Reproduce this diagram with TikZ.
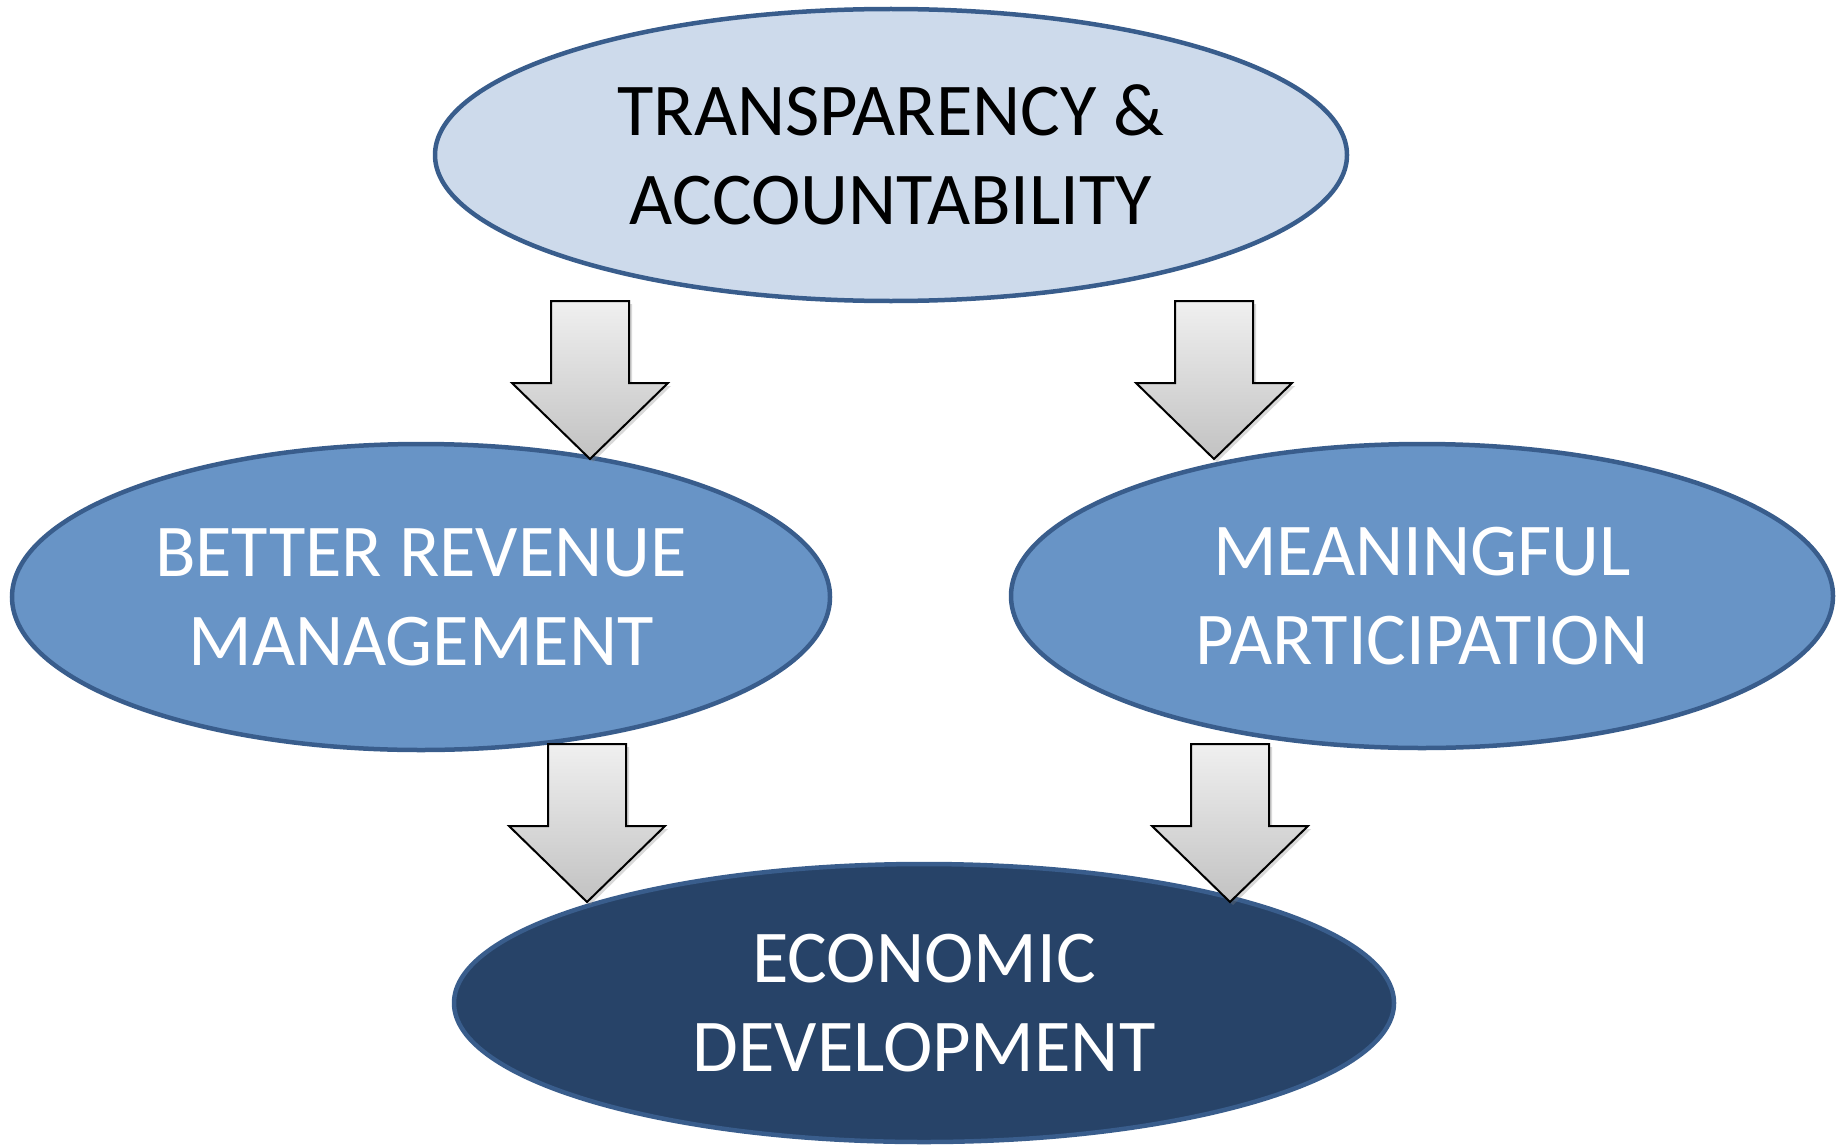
\documentclass[tikz,border=0pt]{standalone}
\usepackage{fontspec}
\setmainfont{Carlito}
\usetikzlibrary{shapes.geometric, shadows}
\definecolor{PaleBlue}{RGB}{205,218,235}
\definecolor{MidBlue}{RGB}{104,148,198}
\definecolor{DeepBlue}{RGB}{39,67,104}
\definecolor{EdgeBlue}{RGB}{57,93,140}

\tikzset{
  goal/.style={ellipse, draw=EdgeBlue, line width=4.5pt, inner sep=0pt, align=center,
    font=\fontsize{74.5}{89}\selectfont},
  pics/downarrow/.style={code={
    \draw[line width=2pt, line join=miter, top color=black!6, bottom color=black!24,
      drop shadow={opacity=0.3, shadow xshift=3pt, shadow yshift=-3pt}]
      (-39,0) -- (39,0) -- (39,82) -- (78,82) -- (0,158) -- (-78,82) -- (-39,82) -- cycle;
  }}
}

\begin{document}
\begin{tikzpicture}[x=1pt, y=-1pt]
  \useasboundingbox (0,0) rectangle (1843,1145);

  % --- ellipses ---
  \node[goal, fill=PaleBlue, text=black, minimum width=912pt, minimum height=292pt]
    (trans) at (891,155) {TRANSPARENCY \&\\ACCOUNTABILITY};
  \node[goal, fill=MidBlue, text=white, minimum width=818pt, minimum height=306pt]
    (revenue) at (421,597) {BETTER REVENUE\\MANAGEMENT};
  \node[goal, fill=MidBlue, text=white, minimum width=822pt, minimum height=304pt]
    (particip) at (1422,596) {MEANINGFUL\\PARTICIPATION};
  \node[goal, fill=DeepBlue, text=white, minimum width=940pt, minimum height=278pt]
    (econ) at (924,1003) {ECONOMIC\\DEVELOPMENT};

  % --- block arrows ---
  \pic at (590,301) {downarrow};
  \pic at (1214,301) {downarrow};
  \pic at (587,744) {downarrow};
  \pic at (1230,744) {downarrow};
\end{tikzpicture}
\end{document}
